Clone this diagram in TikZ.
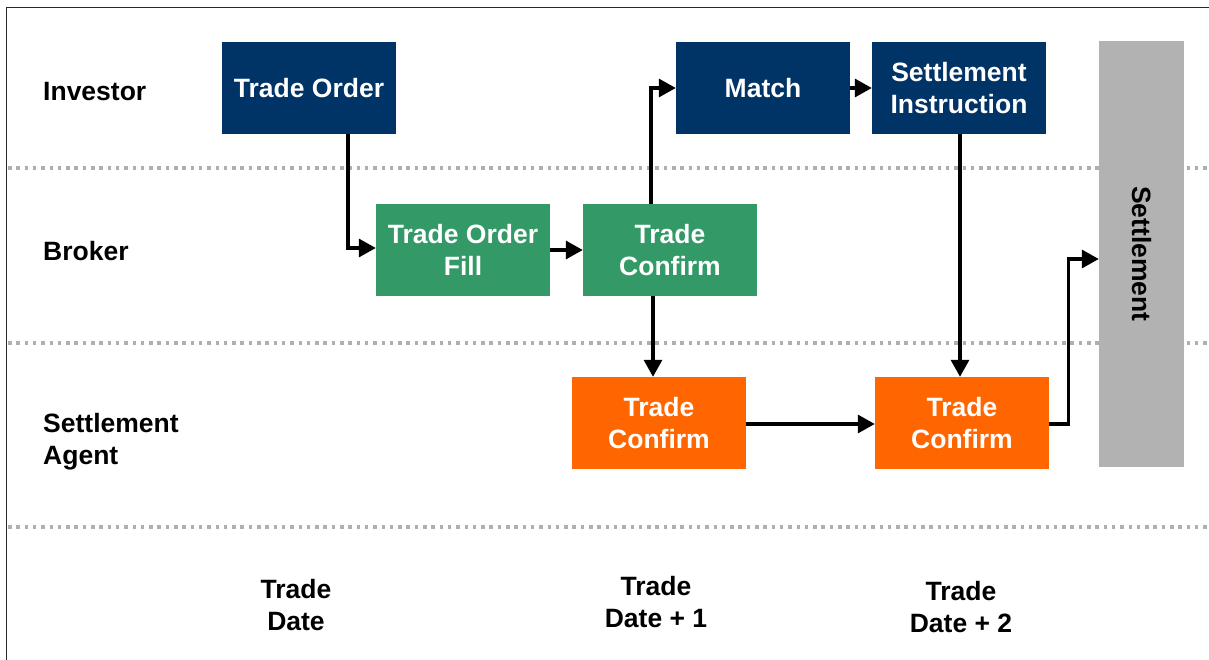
\documentclass[tikz,border=0pt]{standalone}
\usepackage{fontspec}
\setmainfont{Liberation Sans}
\usetikzlibrary{arrows.meta,calc}
\definecolor{navy}{RGB}{0,51,102}
\definecolor{grn}{RGB}{51,153,102}
\definecolor{orng}{RGB}{255,102,0}
\definecolor{barg}{RGB}{178,178,178}
\definecolor{dotg}{RGB}{175,175,175}
\definecolor{frm}{RGB}{40,40,40}
\begin{document}
\begin{tikzpicture}[x=1pt,y=-1pt,
  every node/.style={font=\fontsize{26.5}{32}\selectfont\bfseries},
  box/.style={rectangle,minimum width=174pt,minimum height=92pt,inner sep=0pt,text=white,align=center},
  inv/.style={box,fill=navy},
  brk/.style={box,fill=grn},
  agt/.style={box,fill=orng},
  lbl/.style={anchor=west,align=left,inner sep=0pt},
  datelbl/.style={align=center,inner sep=0pt},
  sep/.style={draw=dotg,line width=3.5pt,dash pattern=on 3.5pt off 4.8pt},
  arr/.style={draw=black,line width=3.2pt,-{Triangle[length=17pt,width=18pt]}}]
\useasboundingbox (0,0) rectangle (1209,660);
\fill[white] (0,0) rectangle (1209,660);
\draw[frm,line width=1.6pt] (6.5,660) -- (6.5,7.5) -- (1209,7.5);
% lane separators
\draw[sep] (8,168) -- (1209,168);
\draw[sep] (8,343) -- (1209,343);
\draw[sep] (8,527) -- (1209,527);
% lane labels
\node[lbl] (linv) at (43,92) {Investor};
\node[lbl] (lbrk) at (43,251) {Broker};
\node[lbl] (lagt) at (43,442) {Settlement\\Agent};
% date labels
\node[datelbl] (d0) at (296,605) {Trade\\Date};
\node[datelbl] (d1) at (656,602) {Trade\\Date + 1};
\node[datelbl] (d2) at (961,607) {Trade\\Date + 2};
% boxes
\node[inv] (to) at (309,88) {Trade Order};
\node[inv] (match) at (763,88) {Match};
\node[inv] (si) at (959,88) {Settlement\\Instruction};
\node[brk] (tof) at (463,250) {Trade Order\\Fill};
\node[brk] (tcg) at (670,250) {Trade\\Confirm};
\node[agt] (tc1) at (659,423) {Trade\\Confirm};
\node[agt] (tc2) at (962,423) {Trade\\Confirm};
\node[rectangle,fill=barg,minimum width=85pt,minimum height=426pt,inner sep=0pt] (set) at (1141.5,254) {};
\node[rotate=-90,inner sep=0pt] (settxt) at (set.center) {Settlement};
% connectors
\draw[arr] ([xshift=39pt]to.south) |- ([yshift=2pt]tof.west);
\draw[arr] (tof.east) -- (tcg.west);
\draw[arr] ([xshift=-19pt]tcg.north) |- (match.west);
\draw[arr] (match.east) -- (si.west);
\draw[arr] ([xshift=1pt]si.south) -- ([xshift=1pt]si.south |- tc2.north);
\draw[arr] ([xshift=-17pt]tcg.south) -- ([xshift=-17pt]tcg.south |- tc1.north);
\draw[arr] ([yshift=-1pt]tc1.east) -- ([yshift=-1pt]tc2.west);
\draw[arr] ([yshift=-1pt]tc2.east) -- ++(19,0) |- ([yshift=-5pt]set.west);
\end{tikzpicture}
\end{document}
